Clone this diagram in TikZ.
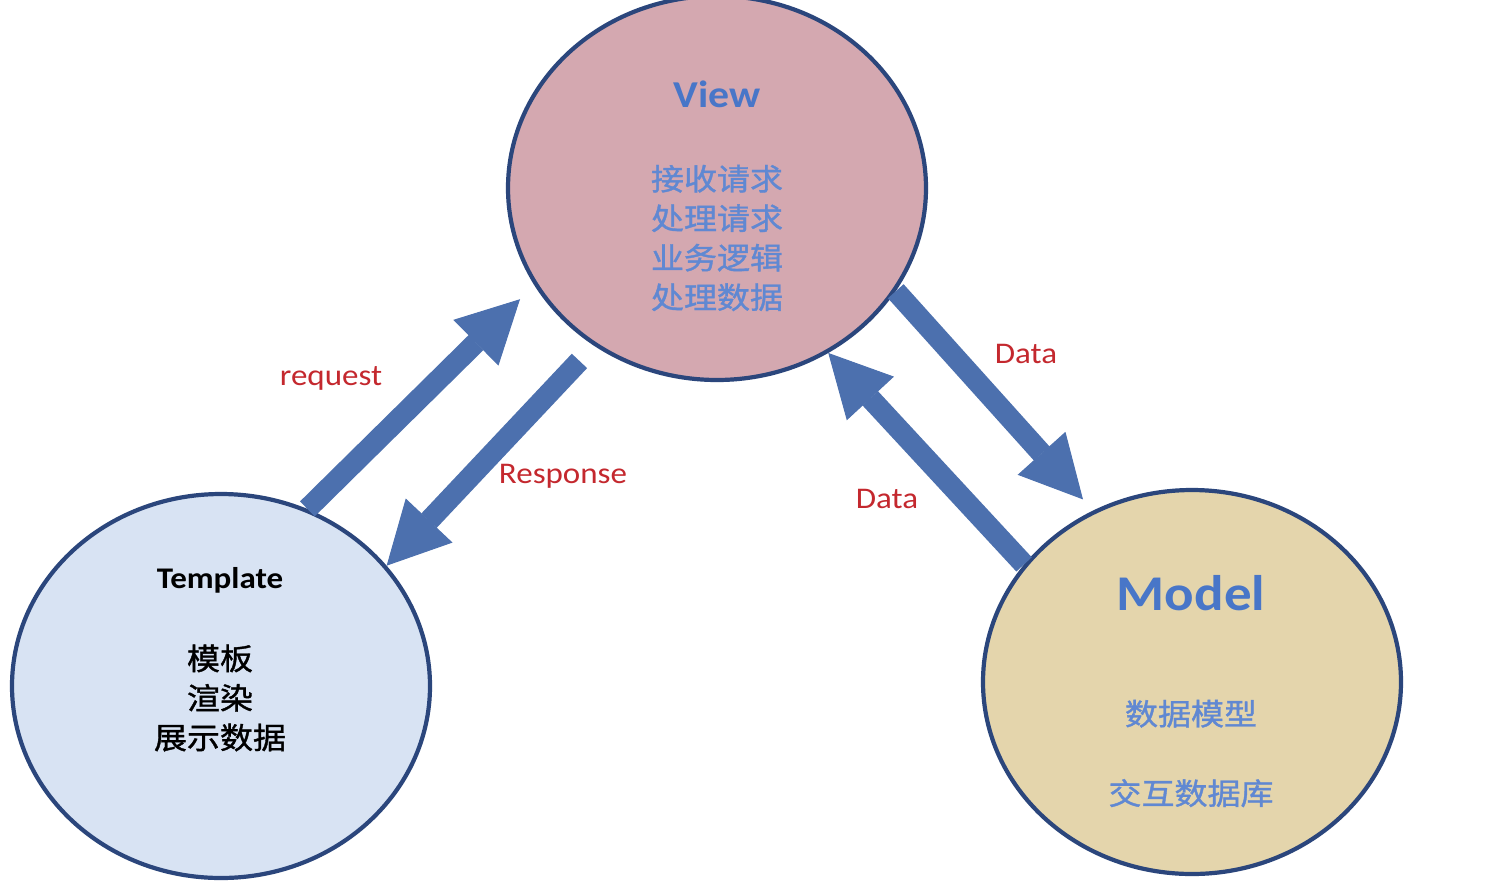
\documentclass[tikz,border=0pt]{standalone}
\usepackage{fontspec}
\setmainfont{Carlito}[FakeStretch=1.1]
\newfontfamily\cjk{Noto Sans CJK SC}[FakeStretch=1.1,FakeBold=1.2]
\usepackage{tikz}
\usetikzlibrary{shapes.geometric}
\usetikzlibrary{arrows.meta}
\definecolor{rimblue}{RGB}{43,70,124}
\definecolor{viewfill}{RGB}{212,168,176}
\definecolor{tplfill}{RGB}{216,227,243}
\definecolor{modelfill}{RGB}{228,213,172}
\definecolor{arrowblue}{RGB}{76,112,174}
\definecolor{labelred}{RGB}{196,40,46}
\definecolor{titleblue}{RGB}{72,118,200}
\definecolor{textblue}{RGB}{96,136,210}

\begin{document}
\begin{tikzpicture}[x=1pt,y=-1pt,
    blob/.style={ellipse, draw=rimblue, line width=4.2pt, inner sep=0pt,
      minimum width=418pt, minimum height=384pt},
    bigarrow/.style={draw=arrowblue, line width=21pt,
      -{Triangle[width=64pt,length=62pt,line width=1pt]}},
    lbl/.style={text=labelred, font=\fontsize{30}{30}\selectfont, anchor=base},
    cjklines/.style={align=center, font=\cjk\fontsize{30}{39.5}\selectfont}]
    \path[use as bounding box, fill=white] (0,0) rectangle (1512,884);
    % Circles
    \node[blob, fill=viewfill] (view) at (717,188) {};
    \node[blob, fill=tplfill] (tmpl) at (221,686) {};
    \node[blob, fill=modelfill] (model) at (1192,682) {};
    % Texts inside
    \node[text=titleblue, font=\bfseries\fontsize{38}{38}\selectfont, anchor=base] (viewtitle) at (717,107) {View};
    \node[cjklines, text=textblue] (viewtasks) at (717,238) {接收请求\\处理请求\\业务逻辑\\处理数据};
    \node[font=\bfseries\fontsize{30}{30}\selectfont, anchor=base] (tmpltitle) at (220,588) {Template};
    \node[cjklines] (tmpltasks) at (220,698) {模板\\渲染\\展示数据};
    \node[text=titleblue, font=\bfseries\fontsize{50}{50}\selectfont, anchor=base] (modeltitle) at (1191,610) {Model};
    \node[cjklines, text=textblue] (modeltasks) at (1191,753.5) {数据模型\\[40pt]交互数据库};
    %
    % Flow arrows:
  \draw[bigarrow, shorten >=20pt] (tmpl.64) -- (view.208);
  \draw[bigarrow, shorten <=21pt] (view.232) -- (tmpl.36.5);
  \draw[bigarrow, shorten >=15pt] (view.330) -- (model.120.5);
  \draw[bigarrow] (model.145.5) -- (view.304.6);
    % Arrow labels
    \node[lbl] (reqlbl) at (331,385) {request};
    \node[lbl] (resplbl) at (563,483) {Response};
    \node[lbl] (datadown) at (1026,363) {Data};
    \node[lbl] (dataup) at (887,508) {Data};
\end{tikzpicture}
\end{document}
